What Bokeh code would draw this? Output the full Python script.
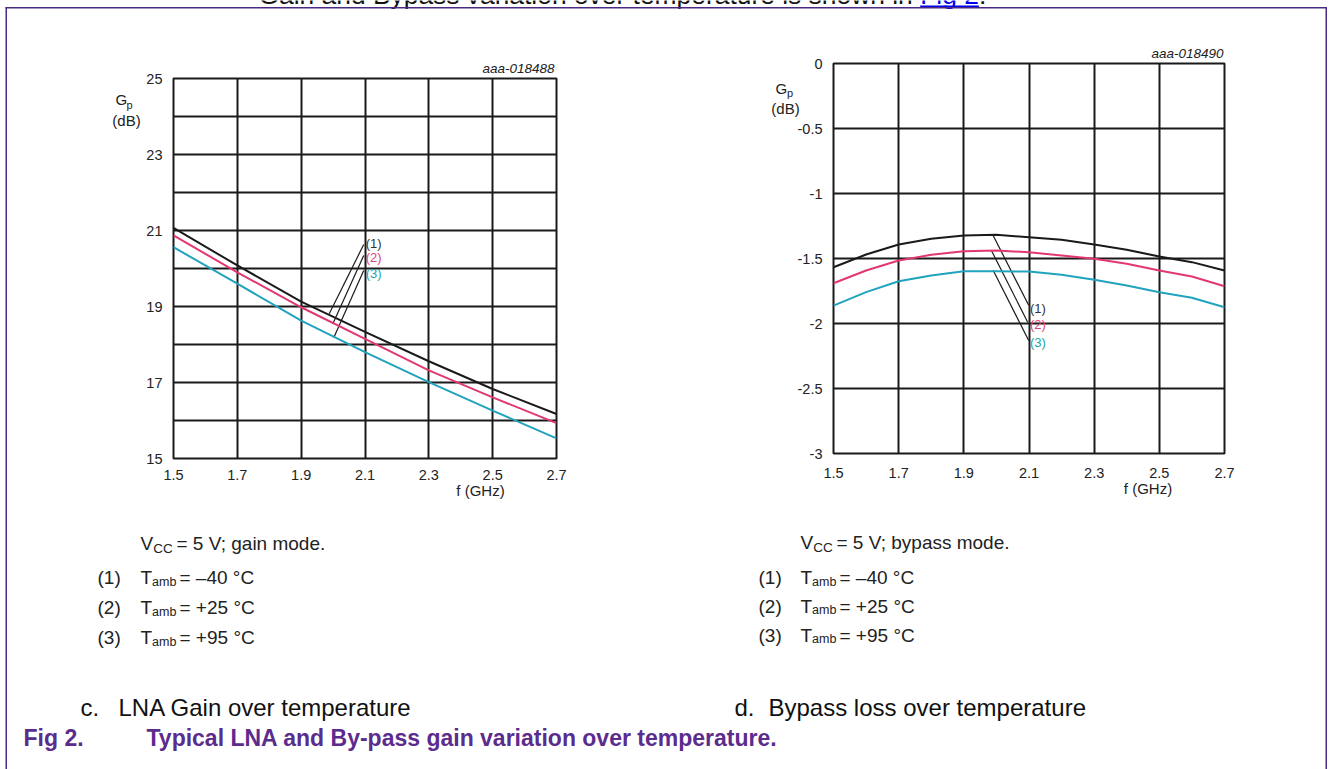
from bokeh.plotting import figure
from bokeh.models import Range1d, FixedTicker, Label, BoxAnnotation, GridBox
from bokeh.layouts import column
from bokeh.embed import file_html
from bokeh.resources import INLINE

# ---------------- data ----------------
freq_ticks = [1.5, 1.7, 1.9, 2.1, 2.3, 2.5, 2.7]

# LNA gain (dB) vs frequency (GHz)
freq_gain = [1.5, 1.7, 1.9, 2.1, 2.3, 2.5, 2.7]
gain_m40 = [21.07, 20.08, 19.13, 18.33, 17.56, 16.83, 16.17]
gain_p25 = [20.87, 19.90, 18.98, 18.15, 17.32, 16.61, 15.93]
gain_p95 = [20.56, 19.60, 18.63, 17.80, 17.01, 16.26, 15.53]
gain_label_ticks = [15, 17, 19, 21, 23, 25]
gain_grid_ticks = [15, 16, 17, 18, 19, 20, 21, 22, 23, 24, 25]

# Bypass loss (dB) vs frequency (GHz)
freq_byp = [1.5, 1.6, 1.7, 1.8, 1.9, 2.0, 2.1, 2.2, 2.3, 2.4, 2.5, 2.6, 2.7]
byp_m40 = [-1.567, -1.469, -1.392, -1.348, -1.323, -1.318, -1.336, -1.356, -1.392, -1.433, -1.485, -1.528, -1.592]
byp_p25 = [-1.690, -1.592, -1.515, -1.472, -1.444, -1.438, -1.452, -1.477, -1.502, -1.541, -1.592, -1.638, -1.713]
byp_p95 = [-1.862, -1.759, -1.675, -1.631, -1.598, -1.598, -1.600, -1.625, -1.664, -1.708, -1.759, -1.802, -1.875]
byp_ticks = [-3, -2.5, -2, -1.5, -1, -0.5, 0]
byp_tick_labels = ["-3", "-2.5", "-2", "-1.5", "-1", "-0.5", "0"]

# callout leaders (curve point -> label point)
gain_lead_x0 = [1.988, 1.999, 2.002]
gain_lead_y0 = [18.81, 18.54, 18.18]
gain_lead_x1 = [2.096, 2.096, 2.096]
gain_lead_y1 = [20.63, 20.34, 19.95]
gain_lab_x = [2.102, 2.102, 2.102]
gain_lab_y = [20.67, 20.29, 19.88]

byp_lead_x0 = [1.990, 1.985, 1.990]
byp_lead_y0 = [-1.323, -1.440, -1.590]
byp_lead_x1 = [2.099, 2.096, 2.099]
byp_lead_y1 = [-1.860, -1.990, -2.130]
byp_lab_x = [2.103, 2.103, 2.103]
byp_lab_y = [-1.885, -2.008, -2.146]

curve_labels = ["(1)", "(2)", "(3)"]
temps = ["\u201340 \u00b0C", "+25 \u00b0C", "+95 \u00b0C"]

# ---------------- style ----------------
FONT = "Liberation Sans"
INK = "#1a1a1a"
TXT = "#222222"
C_BLACK = "#1a1a1a"
C_PINK = "#e2386e"
C_CYAN = "#20a3bd"
L_COLORS = ["#333333", "#e0457a", "#26a6a8"]
PURPLE = "#4b2a84"
CAP_PURPLE = "#5b2c8e"
W, H = 1331, 769


def chart(frame_l, frame_t, frame_r, frame_b, y0, y1, yticks, ygrid, x_standoff, overrides=None):
    p = figure(width=W, height=H, x_range=Range1d(1.5, 2.7), y_range=Range1d(y0, y1),
               output_backend="svg", toolbar_location=None, tools="",
               min_border_left=frame_l, min_border_right=W - frame_r,
               min_border_top=frame_t, min_border_bottom=H - frame_b)
    p.xaxis.ticker = FixedTicker(ticks=freq_ticks)
    p.yaxis.ticker = FixedTicker(ticks=yticks)
    p.xgrid.ticker = FixedTicker(ticks=freq_ticks)
    p.ygrid.ticker = FixedTicker(ticks=ygrid)
    if overrides:
        p.yaxis.major_label_overrides = overrides
    for ax in (p.xaxis[0], p.yaxis[0]):
        ax.axis_line_color = None
        ax.major_tick_line_color = None
        ax.minor_tick_line_color = None
        ax.major_tick_out = 0
        ax.major_tick_in = 0
        ax.minor_tick_out = 0
        ax.minor_tick_in = 0
        ax.major_label_text_font = FONT
        ax.major_label_text_font_size = "14.5px"
        ax.major_label_text_color = TXT
    p.yaxis.major_label_standoff = 11
    p.xaxis.major_label_standoff = x_standoff
    p.grid.grid_line_color = INK
    p.grid.grid_line_width = 2
    p.grid.grid_line_alpha = 1
    p.outline_line_color = INK
    p.outline_line_width = 2
    p.outline_line_alpha = 1
    p.background_fill_color = "white"
    p.border_fill_color = None
    return p


def lab(p, x, y, text, size, color=TXT, align="left", baseline="middle", style="normal"):
    p.add_layout(Label(x=x, y=y, text=text, text_font=FONT, text_font_size=f"{size}px",
                       text_color=color, text_align=align, text_baseline=baseline,
                       text_font_style=style))


# ================= left chart: LNA gain =================
pL = chart(173, 78, 556, 458, 15, 25, gain_label_ticks, gain_grid_ticks, 11)
pL.segment(x0=gain_lead_x0, y0=gain_lead_y0, x1=gain_lead_x1, y1=gain_lead_y1,
           line_color=INK, line_width=1.2)
pL.line(freq_gain, gain_p95, line_color=C_CYAN, line_width=2)
pL.line(freq_gain, gain_p25, line_color=C_PINK, line_width=2)
pL.line(freq_gain, gain_m40, line_color=C_BLACK, line_width=2)
for t, x, y, c in zip(curve_labels, gain_lab_x, gain_lab_y, L_COLORS):
    lab(pL, x, y, t, 13, color=c)

# ================= right chart: bypass loss =================
pR = chart(833, 63, 1224, 453, -3, 0, byp_ticks, byp_ticks, 14,
           dict(zip([float(t) for t in byp_ticks], byp_tick_labels)))
pR.segment(x0=byp_lead_x0, y0=byp_lead_y0, x1=byp_lead_x1, y1=byp_lead_y1,
           line_color=INK, line_width=1.2)
pR.line(freq_byp, byp_p95, line_color=C_CYAN, line_width=2)
pR.line(freq_byp, byp_p25, line_color=C_PINK, line_width=2)
pR.line(freq_byp, byp_m40, line_color=C_BLACK, line_width=2)
for t, x, y, c in zip(curve_labels, byp_lab_x, byp_lab_y, L_COLORS):
    lab(pR, x, y, t, 13, color=c)

# ================= page (paper) underneath: texts and frame =================
pg = figure(width=W, height=H, x_range=Range1d(0, W), y_range=Range1d(H, 0),
            x_axis_type=None, y_axis_type=None, output_backend="svg",
            toolbar_location=None, tools="", min_border=0)
pg.outline_line_color = None
pg.grid.visible = False
pg.background_fill_color = "white"
pg.border_fill_color = "white"


def box(x0, x1, y0, y1, color=PURPLE):
    pg.add_layout(BoxAnnotation(left=x0, right=x1, top=y0, bottom=y1, fill_color=color,
                                fill_alpha=1, line_color=None))


# running text above the figure box (cut by the window top, as in the source page)
lab(pg, 258, -6, "Gain and Bypass variation over temperature is shown in", 26.4, color="#111111")
lab(pg, 919.7, -6, "Fig 2", 26.4, color="#0000ee")
lab(pg, 978.4, -6, ".", 26.4, color="#111111")
box(919.7, 978.4, 5, 6.6, color="#0000ee")

# figure box lines
box(5, 1326.5, 6.5, 8)
box(5, 6.5, 6.5, H + 2)
box(1325, 1326.5, 6.5, H + 2)

# left chart furniture
lab(pg, 554, 68, "aaa-018488", 13.5, align="right", style="italic")
lab(pg, 115, 99, "G", 15)
lab(pg, 126, 104, "p", 11)
lab(pg, 126, 120, "(dB)", 15, align="center")
lab(pg, 480, 490, "f (GHz)", 15, align="center")

lab(pg, 140, 542.5, "V", 19)
lab(pg, 152.7, 548, "CC", 13.5)
lab(pg, 176, 542.5, "= 5 V; gain mode.", 19)
for t, tt, y in zip(curve_labels, temps, [577, 607, 637]):
    lab(pg, 97, y, t, 19)
    lab(pg, 140, y, "T", 19)
    lab(pg, 151.6, y + 4, "amb", 12.5)
    lab(pg, 179, y, "= " + tt, 19)

# right chart furniture
lab(pg, 1223, 53, "aaa-018490", 13.5, align="right", style="italic")
lab(pg, 775, 87.5, "G", 15)
lab(pg, 786.5, 92, "p", 11)
lab(pg, 785, 107.5, "(dB)", 15, align="center")
lab(pg, 1147.5, 487.5, "f (GHz)", 15, align="center")

lab(pg, 800, 541.5, "V", 19)
lab(pg, 812.7, 547, "CC", 13.5)
lab(pg, 836, 541.5, "= 5 V; bypass mode.", 19)
for t, tt, y in zip(curve_labels, temps, [577, 605.7, 634.7]):
    lab(pg, 758, y, t, 19)
    lab(pg, 800, y, "T", 19)
    lab(pg, 811.6, y + 4, "amb", 12.5)
    lab(pg, 839, y, "= " + tt, 19)

# sub-captions and figure title
lab(pg, 80, 707, "c.", 24, color="#111111")
lab(pg, 118, 707, "LNA Gain over temperature", 24, color="#111111")
lab(pg, 734, 707, "d.", 24, color="#111111")
lab(pg, 768, 707, "Bypass loss over temperature", 24, color="#111111")
lab(pg, 23, 737, "Fig 2.", 23, color=CAP_PURPLE, style="bold")
lab(pg, 146, 737, "Typical LNA and By-pass gain variation over temperature.", 23,
    color=CAP_PURPLE, style="bold")

# paper first, charts stacked on top in the same grid cell; each wrapped in
# its own column so that the grid does not align the plot frames
page = GridBox(children=[(column(pg), 0, 0), (column(pL), 0, 0), (column(pR), 0, 0)])

open("out.html", "w").write(file_html(page, INLINE))
